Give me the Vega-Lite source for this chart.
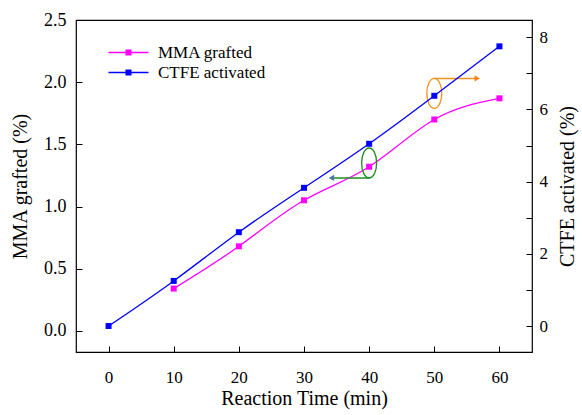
{
  "$schema": "https://vega.github.io/schema/vega-lite/v6.json",
  "width": 456,
  "height": 332,
  "autosize": "none",
  "padding": {"left": 76, "top": 20, "right": 50, "bottom": 63},
  "background": "white",
  "config": {
    "view": {"stroke": "black", "strokeWidth": 1.2},
    "font": "Liberation Serif",
    "axis": {
      "labelFont": "Liberation Serif",
      "titleFont": "Liberation Serif",
      "labelFontSize": 17,
      "titleFontSize": 20,
      "titleFontWeight": "normal",
      "labelColor": "black",
      "titleColor": "black",
      "domain": false,
      "ticks": true,
      "tickColor": "black",
      "tickWidth": 1,
      "tickSize": 6,
      "offset": -6,
      "grid": false
    }
  },
  "datasets": {
    "mma": [
      {"t": 10, "series": "MMA grafted", "v": 0.34},
      {"t": 20, "series": "MMA grafted", "v": 0.68},
      {"t": 30, "series": "MMA grafted", "v": 1.05},
      {"t": 40, "series": "MMA grafted", "v": 1.32},
      {"t": 50, "series": "MMA grafted", "v": 1.70},
      {"t": 60, "series": "MMA grafted", "v": 1.87}
    ],
    "ctfe": [
      {"t": 0, "series": "CTFE activated", "v": 0.0},
      {"t": 10, "series": "CTFE activated", "v": 1.25},
      {"t": 20, "series": "CTFE activated", "v": 2.6},
      {"t": 30, "series": "CTFE activated", "v": 3.83},
      {"t": 40, "series": "CTFE activated", "v": 5.05},
      {"t": 50, "series": "CTFE activated", "v": 6.38},
      {"t": 60, "series": "CTFE activated", "v": 7.75}
    ],
    "ellipses": [
      {"t": 40, "v": 1.35, "c": "green"},
      {"t": 50, "v": 1.91, "c": "orange"}
    ],
    "arrows": [
      {"t1": 40, "t2": 34.2, "v": 1.23, "c": "green", "dir": "left"},
      {"t1": 50, "t2": 56.6, "v": 2.03, "c": "orange", "dir": "right"}
    ]
  },
  "layer": [
    {
      "layer": [
        {
          "data": {"name": "mma"},
          "mark": {"type": "line", "interpolate": "natural", "strokeWidth": 1.3},
          "encoding": {
            "x": {
              "field": "t", "type": "quantitative",
              "scale": {"domain": [-5, 65], "nice": false, "zero": false},
              "axis": {
                "title": "Reaction Time (min)",
                "values": [0, 5, 10, 15, 20, 25, 30, 35, 40, 45, 50, 55, 60],
                "labelExpr": "datum.value % 10 === 0 ? datum.label : ''",
                "labelPadding": 17,
                "titlePadding": 3
              }
            },
            "y": {
              "field": "v", "type": "quantitative",
              "scale": {"domain": [-0.17, 2.5], "nice": false, "zero": false},
              "axis": {
                "title": "MMA grafted (%)",
                "values": [0, 0.25, 0.5, 0.75, 1, 1.25, 1.5, 1.75, 2, 2.25, 2.5],
                "format": ".1f",
                "labelFontSize": 18,
                "labelExpr": "(datum.value * 4) % 2 === 0 ? datum.label : ''",
                "labelPadding": 10,
                "titlePadding": 13
              }
            },
            "color": {
              "field": "series", "type": "nominal",
              "scale": {"domain": ["MMA grafted", "CTFE activated"], "range": ["#ff00ff", "#0000ff"]},
              "legend": {
                "title": null,
                "orient": "none",
                "legendX": 44,
                "legendY": 24,
                "labelFont": "Liberation Serif",
                "labelFontSize": 17,
                "labelColor": "black",
                "symbolType": "M-5,0H5M-0.6,-0.6H0.6V0.6H-0.6Z",
                "symbolSize": 64,
                "symbolStrokeWidth": 1.3,
                "labelOffset": 21,
                "rowPadding": 2,
                "encode": {
                  "symbols": {
                    "update": {
                      "fill": {"scale": "color", "field": "value"},
                      "stroke": {"scale": "color", "field": "value"}
                    }
                  }
                }
              }
            }
          }
        },
        {
          "data": {"name": "mma"},
          "mark": {"type": "point", "shape": "square", "filled": true, "size": 36, "opacity": 1},
          "encoding": {
            "x": {"field": "t", "type": "quantitative"},
            "y": {"field": "v", "type": "quantitative"},
            "color": {"field": "series", "type": "nominal"}
          }
        },
        {
          "data": {"name": "ellipses"},
          "mark": {"type": "point", "shape": "M0,-1A0.5,1 0 1,1 0,1A0.5,1 0 1,1 0,-1Z", "size": 900, "filled": false, "strokeWidth": 1.3, "opacity": 1},
          "encoding": {
            "x": {"field": "t", "type": "quantitative"},
            "y": {"field": "v", "type": "quantitative"},
            "stroke": {"field": "c", "type": "nominal", "scale": {"domain": ["green", "orange"], "range": ["#1e8c1e", "#f0901e"]}, "legend": null}
          }
        },
        {
          "data": {"name": "arrows"},
          "mark": {"type": "rule", "strokeWidth": 1.5},
          "encoding": {
            "x": {"field": "t1", "type": "quantitative"},
            "x2": {"field": "t2"},
            "y": {"field": "v", "type": "quantitative"},
            "stroke": {"field": "c", "type": "nominal", "legend": null}
          }
        },
        {
          "data": {"name": "arrows"},
          "mark": {"type": "point", "filled": true, "size": 40, "opacity": 1},
          "encoding": {
            "x": {"field": "t2", "type": "quantitative"},
            "y": {"field": "v", "type": "quantitative"},
            "shape": {"field": "dir", "type": "nominal", "scale": {"domain": ["left", "right"], "range": ["triangle-left", "triangle-right"]}, "legend": null},
            "fill": {"field": "c", "type": "nominal", "legend": null}
          }
        }
      ]
    },
    {
      "layer": [
        {
          "data": {"name": "ctfe"},
          "mark": {"type": "line", "interpolate": "natural", "strokeWidth": 1.3},
          "encoding": {
            "x": {"field": "t", "type": "quantitative"},
            "y": {
              "field": "v", "type": "quantitative",
              "scale": {"domain": [-0.72, 8.48], "nice": false, "zero": false},
              "axis": {
                "orient": "right",
                "title": "CTFE activated (%)",
                "titleAngle": 270,
                "titleBaseline": "top",
                "values": [0, 1, 2, 3, 4, 5, 6, 7, 8],
                "labelExpr": "datum.value % 2 === 0 ? datum.label : ''",
                "labelPadding": 7,
                "titlePadding": 10
              }
            },
            "color": {"field": "series", "type": "nominal"}
          }
        },
        {
          "data": {"name": "ctfe"},
          "mark": {"type": "point", "shape": "square", "filled": true, "size": 36, "opacity": 1},
          "encoding": {
            "x": {"field": "t", "type": "quantitative"},
            "y": {"field": "v", "type": "quantitative"},
            "color": {"field": "series", "type": "nominal"}
          }
        }
      ]
    }
  ],
  "resolve": {"scale": {"y": "independent", "stroke": "shared"}}
}
